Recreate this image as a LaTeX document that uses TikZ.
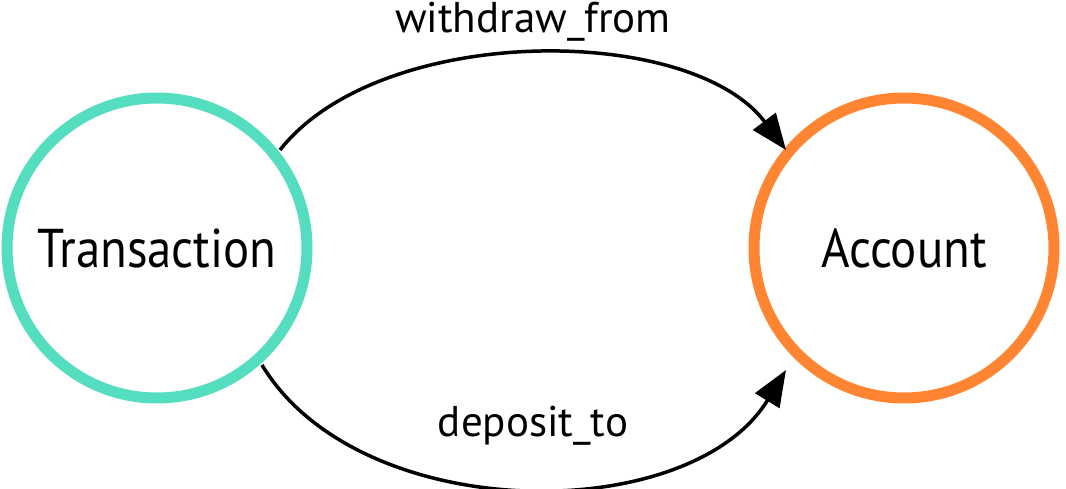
\documentclass[tikz,border=0pt]{standalone}
\usepackage{fontspec}
\setmainfont{PT Sans}
\usetikzlibrary{arrows.meta}
\definecolor{teal1}{HTML}{55DDC0}
\definecolor{orange1}{HTML}{FF8533}
\begin{document}
\begin{tikzpicture}[x=1pt,y=1pt,
  state/.style={circle, line width=11pt, minimum size=300pt, inner sep=0pt, font=\fontsize{52}{60}\selectfont},
  edge/.style={line width=3.5pt, -{Triangle[length=36pt,width=28pt]}},
  lbl/.style={font=\fontsize{43}{48}\selectfont}]
\useasboundingbox (0,0) rectangle (1066,488);
\node[state, draw=teal1] (t) at (157,240) {\scalebox{0.94}[1.05]{Transaction}};
\node[state, draw=orange1] (a) at (904,240) {\scalebox{0.94}[1.05]{Account}};
\coordinate (t1) at (280,338);
\coordinate (a1) at (786,338);
\coordinate (t2) at (262,123);
\coordinate (a2) at (786,118);
\draw[edge] (t1) .. controls (380,465) and (690,465) .. (a1);
\draw[edge] (t2) .. controls (360,-39) and (690,-39) .. (a2);
\node[lbl] (l1) at (533,466) {withdraw\_from};
\node[lbl] (l2) at (533,62) {deposit\_to};
\end{tikzpicture}
\end{document}
